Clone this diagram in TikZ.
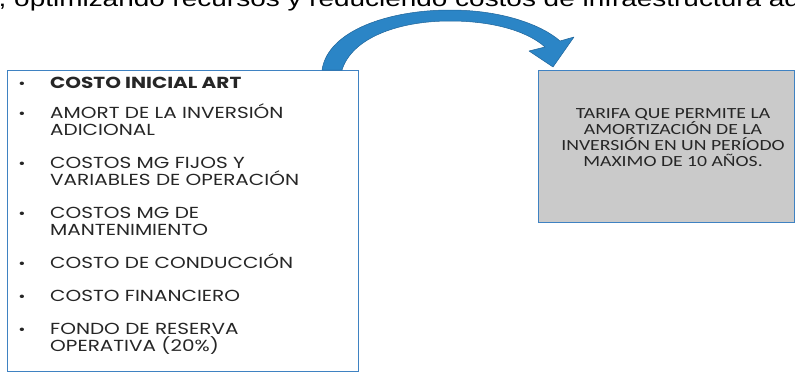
\documentclass[tikz,border=0pt]{standalone}
\usepackage{fontspec}
\setmainfont{Liberation Sans}
\newfontfamily\topfont[FakeStretch=1.27]{Liberation Sans}
\newfontfamily\popfont[FakeStretch=1.25]{Poppins}
\newfontfamily\calfont[FakeStretch=1.27]{Carlito}
\definecolor{arrowblue}{HTML}{2B85C6}
\definecolor{arrowdark}{HTML}{1F6499}
\definecolor{boxblue}{HTML}{3F82C2}
\definecolor{boxgray}{HTML}{CACACA}
\definecolor{txt}{HTML}{262626}
\newcommand{\lines}[1]{\begin{tabular}[t]{@{}l@{}}#1\end{tabular}}
\newcommand{\clines}[1]{\begin{tabular}[t]{@{}c@{}}#1\end{tabular}}
\begin{document}
\begin{tikzpicture}[x=1pt,y=-1pt,
  itemtext/.style={anchor=base west,inner sep=0pt,font=\popfont\fontsize{16}{17}\selectfont,text=txt},
  bullet/.style={anchor=base,inner sep=0pt,font=\popfont\fontsize{14}{14}\selectfont,text=txt},
  listbox/.style={draw=boxblue,line width=1pt,fill=white},
  graybox/.style={draw=boxblue,line width=1pt,fill=boxgray},
  bigarrow/.style={fill=arrowblue,draw=arrowdark,line width=0.5pt,line join=round}]
\useasboundingbox (0,0) rectangle (795,372);
\begin{scope}
\clip (0,0) rectangle (795,372);
\node[anchor=base west,inner sep=0pt,font=\topfont\fontsize{22}{22}\selectfont,text=black] (top) at (-17,6) {a, optimizando recursos y reduciendo costos de infraestructura adicional};
% left box
\node[listbox,minimum width=351pt,minimum height=301pt,anchor=north west,inner sep=0pt] (lbox) at (7,70) {};
% right box
\node[graybox,minimum width=256pt,minimum height=152pt,anchor=north west,inner sep=0pt] (rbox) at (538,70) {};
\end{scope}
% arrow
\coordinate (as) at (331,70);
\coordinate (ae) at (553,67);
\draw[bigarrow] (322,70) .. controls (328,30) and (390,10) .. (450,10)
  .. controls (502,10) and (542,25) .. (560,41) -- (574,37) -- (ae)
  -- (529,51) -- (545,47) .. controls (526,30) and (490,21) .. (450,21)
  .. controls (398,21) and (352,38) .. (342,70) -- cycle;
% list
\foreach \y/\n in {88/b1,118/b2,168/b3,218/b4,268/b5,301/b6,334/b7}
  \node[bullet] (\n) at (22,\y) {•};
\node[itemtext] (i1) at (50,88) {\lines{\smash{\textbf{COSTO INICIAL ART}}}};
\node[itemtext] (i2) at (50,118) {\lines{\smash{AMORT DE LA INVERSIÓN}\\\smash{ADICIONAL}}};
\node[itemtext] (i3) at (50,168) {\lines{\smash{COSTOS MG FIJOS Y}\\\smash{VARIABLES DE OPERACIÓN}}};
\node[itemtext] (i4) at (50,218) {\lines{\smash{COSTOS MG DE}\\\smash{MANTENIMIENTO}}};
\node[itemtext] (i5) at (50,268) {\lines{\smash{COSTO DE CONDUCCIÓN}}};
\node[itemtext] (i6) at (50,301) {\lines{\smash{COSTO FINANCIERO}}};
\node[itemtext] (i7) at (50,334) {\lines{\smash{FONDO DE RESERVA}\\\smash{OPERATIVA (20\%)}}};
% right text
\node[anchor=base,inner sep=0pt,font=\calfont\fontsize{15.5}{16}\selectfont,text=txt] (t) at (673,118) {\clines{\smash{TARIFA QUE PERMITE LA}\\\smash{AMORTIZACIÓN DE LA}\\\smash{INVERSIÓN EN UN PERÍODO}\\\smash{MAXIMO DE 10 AÑOS.}}};
\end{tikzpicture}
\end{document}
